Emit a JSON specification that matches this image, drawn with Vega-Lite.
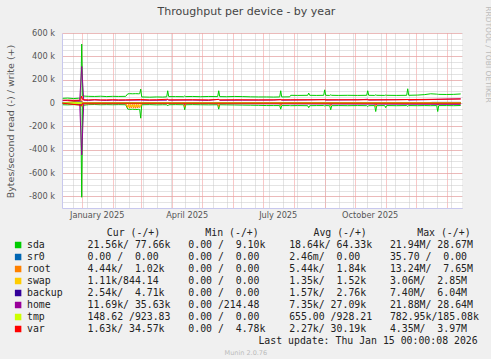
{
  "$schema": "https://vega.github.io/schema/vega-lite/v6.json",
  "background": "#f0f0f0",
  "padding": {"left": 4, "top": 5, "right": 0, "bottom": 0},
  "autosize": {"type": "pad"},
  "bounds": "flush",
  "spacing": 19,
  "config": {
    "view": {"stroke": null},
    "font": "DejaVu Sans",
    "axis": {"labelFont": "DejaVu Sans", "titleFont": "DejaVu Sans"}
  },
  "resolve": {"scale": {"color": "independent", "x": "independent", "y": "independent"}},
  "vconcat": [
    {
      "width": 400,
      "height": 175,
      "view": {"fill": "#ffffff", "stroke": null},
      "resolve": {"axis": {"x": "independent", "y": "independent"}},
      "layer": [
        {
          "data": {"values": [{}]},
          "mark": {"type": "point", "opacity": 0},
          "encoding": {
            "x": {"datum": {"year": 2025, "month": 1, "date": 1, "utc": true}, "type": "temporal",
              "axis": {"orient": "bottom", "grid": true, "gridColor": "#c8c8c8", "gridDash": [1, 1], "labels": false, "ticks": false, "domain": false, "title": null,
                "values": [
                  {"year": 2024, "month": 12, "date": 23, "utc": true}, {"year": 2025, "month": 1, "date": 6, "utc": true}, {"year": 2025, "month": 1, "date": 20, "utc": true},
                  {"year": 2025, "month": 2, "date": 3, "utc": true}, {"year": 2025, "month": 2, "date": 17, "utc": true}, {"year": 2025, "month": 3, "date": 3, "utc": true},
                  {"year": 2025, "month": 3, "date": 17, "utc": true}, {"year": 2025, "month": 3, "date": 31, "utc": true}, {"year": 2025, "month": 4, "date": 14, "utc": true},
                  {"year": 2025, "month": 4, "date": 28, "utc": true}, {"year": 2025, "month": 5, "date": 12, "utc": true}, {"year": 2025, "month": 5, "date": 26, "utc": true},
                  {"year": 2025, "month": 6, "date": 9, "utc": true}, {"year": 2025, "month": 6, "date": 23, "utc": true}, {"year": 2025, "month": 7, "date": 7, "utc": true},
                  {"year": 2025, "month": 7, "date": 21, "utc": true}, {"year": 2025, "month": 8, "date": 4, "utc": true}, {"year": 2025, "month": 8, "date": 18, "utc": true},
                  {"year": 2025, "month": 9, "date": 1, "utc": true}, {"year": 2025, "month": 9, "date": 15, "utc": true}, {"year": 2025, "month": 9, "date": 29, "utc": true},
                  {"year": 2025, "month": 10, "date": 13, "utc": true}, {"year": 2025, "month": 10, "date": 27, "utc": true}, {"year": 2025, "month": 11, "date": 10, "utc": true},
                  {"year": 2025, "month": 11, "date": 24, "utc": true}, {"year": 2025, "month": 12, "date": 8, "utc": true}, {"year": 2025, "month": 12, "date": 22, "utc": true},
                  {"year": 2026, "month": 1, "date": 5, "utc": true}
                ]}},
            "y": {"datum": 0, "type": "quantitative",
              "axis": {"orient": "right", "grid": true, "gridColor": "#c8c8c8", "gridDash": [1, 1], "labels": false, "ticks": false, "domain": false,
                "values": [-900000, -850000, -800000, -750000, -700000, -650000, -600000, -550000, -500000, -450000, -400000, -350000, -300000, -250000, -200000, -150000, -100000, -50000, 0, 50000, 100000, 150000, 200000, 250000, 300000, 350000, 400000, 450000, 500000, 550000, 600000],
                "title": "RRDTOOL / TOBI OETIKER", "titleColor": "#bbbbbb", "titleFontSize": 7.5, "titleFontWeight": "normal", "titleAngle": 90, "titleX": 25, "titleY": 21, "titleAlign": "center", "titleBaseline": "middle", "titleLimit": 200}}
          }
        },
        {
          "data": {"values": [{}]},
          "mark": {"type": "point", "opacity": 0},
          "encoding": {
            "x": {"datum": {"year": 2025, "month": 1, "date": 1, "utc": true}, "type": "temporal",
              "axis": {"orient": "bottom", "grid": true, "gridColor": "#f29090", "gridDash": [1, 1], "labels": false, "ticks": false, "domain": false, "title": null,
                "values": [
                  {"year": 2025, "month": 1, "date": 1, "utc": true}, {"year": 2025, "month": 2, "date": 1, "utc": true}, {"year": 2025, "month": 3, "date": 1, "utc": true},
                  {"year": 2025, "month": 4, "date": 1, "utc": true}, {"year": 2025, "month": 5, "date": 1, "utc": true}, {"year": 2025, "month": 6, "date": 1, "utc": true},
                  {"year": 2025, "month": 7, "date": 1, "utc": true}, {"year": 2025, "month": 8, "date": 1, "utc": true}, {"year": 2025, "month": 9, "date": 1, "utc": true},
                  {"year": 2025, "month": 10, "date": 1, "utc": true}, {"year": 2025, "month": 11, "date": 1, "utc": true}, {"year": 2025, "month": 12, "date": 1, "utc": true},
                  {"year": 2026, "month": 1, "date": 1, "utc": true}
                ]}},
            "y": {"datum": 0, "type": "quantitative",
              "axis": {"orient": "left", "grid": true, "gridColor": "#f29090", "gridDash": [1, 1], "ticks": false, "domain": true, "domainColor": "#c8c8ee",
                "values": [-800000, -600000, -400000, -200000, 0, 200000, 400000, 600000],
                "labelExpr": "datum.value == 0 ? '0' : (datum.value / 1000) + ' k'",
                "labelFontSize": 8.2, "labelColor": "#555555", "labelPadding": 7.5,
                "title": "Bytes/second read (-) / write (+)", "titleColor": "#555555", "titleFontSize": 9.5, "titleFontWeight": "normal", "titleAngle": -90, "titleX": -52, "titleY": 88, "titleAlign": "center", "titleBaseline": "middle"}}
          }
        },
        {
          "data": {"values": [{}]},
          "mark": {"type": "point", "opacity": 0},
          "encoding": {
            "x": {"datum": {"year": 2025, "month": 1, "date": 1, "utc": true}, "type": "temporal",
              "axis": {"orient": "top", "grid": false, "labels": false, "ticks": false, "domain": false,
                "title": "Throughput per device - by year", "titleColor": "#444444", "titleFontSize": 11, "titleFontWeight": "normal", "titleX": 184, "titleY": -22, "titleAlign": "center", "titleBaseline": "middle", "titleAngle": 0}},
            "y": {"datum": 0, "type": "quantitative", "axis": null}
          }
        },
        {
          "data": {"values": [
            {"date": "2024-12-13", "sda_read": -15000, "sda_write": 40000, "sr0_read": 0, "sr0_write": 0, "root_read": -5000, "root_write": 2000, "swap_read": -1500, "swap_write": 1500, "backup_read": -1500, "backup_write": 2000, "home_read": -5000, "home_write": 20000, "tmp_read": -700, "tmp_write": 900, "var_read": -2000, "var_write": 24000},
            {"date": "2024-12-18", "sda_read": -16000, "sda_write": 42000, "home_write": 22000, "var_write": 25000},
            {"date": "2024-12-24", "sda_read": -14000, "sda_write": 38000, "home_write": 21000, "var_write": 23000},
            {"date": "2024-12-29", "sda_read": -15000, "sda_write": 41000, "root_read": -6000},
            {"date": "2024-12-30", "home_read": -5000, "home_write": 21000, "var_write": 24000, "root_read": -5000},
            {"date": "2024-12-31", "sda_read": -15000, "sda_write": 40000, "root_read": -8000, "var_write": 25000, "swap_read": -2000},
            {"date": "2025-01-01", "sda_read": -808000, "sda_write": 505000, "home_read": -445000, "home_write": 313000, "root_read": -30000, "root_write": 20000, "var_write": 60000, "var_read": -20000, "swap_read": -15000, "backup_read": -10000, "backup_write": 10000, "tmp_read": -5000, "tmp_write": 5000},
            {"date": "2025-01-02", "sda_read": -20000, "sda_write": 60000, "root_read": -8000, "root_write": 2000, "var_write": 28000, "var_read": -2000, "swap_read": -1500, "backup_read": -1500, "backup_write": 2000, "tmp_read": -700, "tmp_write": 900},
            {"date": "2025-01-03", "home_read": -6000, "home_write": 24000},
            {"date": "2025-01-08", "sda_read": -14000, "sda_write": 57000, "var_write": 27000, "home_write": 22000},
            {"date": "2025-01-14", "sda_read": -13000, "sda_write": 56000, "var_write": 28000, "home_write": 27000},
            {"date": "2025-01-20", "sda_read": -15000, "sda_write": 58000, "var_write": 26000, "home_write": 24000},
            {"date": "2025-01-26", "sda_read": -14000, "sda_write": 55000, "var_write": 27000, "home_write": 22000},
            {"date": "2025-02-01", "sda_read": -15000, "sda_write": 57000, "var_write": 28000, "home_write": 25000},
            {"date": "2025-02-07", "sda_read": -14000, "sda_write": 56000, "var_write": 27000, "home_write": 23000},
            {"date": "2025-02-14", "sda_read": -15000, "sda_write": 57000, "root_read": -5000, "swap_read": -1500, "var_write": 27000, "home_write": 24000},
            {"date": "2025-02-16", "sda_read": -52000, "sda_write": 78000, "root_read": -40000, "swap_read": -30000},
            {"date": "2025-02-17", "root_read": -15000, "swap_read": -8000},
            {"date": "2025-02-18", "sda_read": -55000, "sda_write": 80000, "root_read": -45000, "swap_read": -35000},
            {"date": "2025-02-19", "root_read": -20000, "swap_read": -10000},
            {"date": "2025-02-20", "root_read": -42000, "swap_read": -30000},
            {"date": "2025-02-21", "sda_read": -53000, "sda_write": 79000, "root_read": -12000, "swap_read": -6000},
            {"date": "2025-02-22", "root_read": -44000, "swap_read": -33000},
            {"date": "2025-02-23", "root_read": -18000, "swap_read": -9000},
            {"date": "2025-02-24", "sda_read": -56000, "sda_write": 80000, "root_read": -46000, "swap_read": -34000},
            {"date": "2025-02-25", "root_read": -15000, "swap_read": -7000},
            {"date": "2025-02-26", "root_read": -43000, "swap_read": -31000},
            {"date": "2025-02-27", "sda_read": -54000, "sda_write": 79000, "root_read": -20000, "swap_read": -10000},
            {"date": "2025-02-28", "sda_read": -55000, "sda_write": 80000, "root_read": -40000, "swap_read": -30000},
            {"date": "2025-03-01", "sda_read": -130000, "sda_write": 119000, "root_read": -30000, "var_write": 30000, "home_write": 25000},
            {"date": "2025-03-02", "sda_read": -15000, "sda_write": 52000, "root_read": -5000, "swap_read": -1500},
            {"date": "2025-03-10", "sda_read": -14000, "sda_write": 50000, "var_write": 27000, "home_write": 23000},
            {"date": "2025-03-17", "sda_read": -16000, "sda_write": 52000, "var_write": 28000},
            {"date": "2025-03-23", "sda_read": -15000, "sda_write": 51000},
            {"date": "2025-03-27", "sda_read": -15000, "sda_write": 53000, "home_write": 24000},
            {"date": "2025-03-28", "sda_read": -25000, "sda_write": 105000, "home_write": 30000, "var_write": 32000},
            {"date": "2025-03-29", "sda_read": -15000, "sda_write": 55000, "home_write": 24000, "var_write": 27000},
            {"date": "2025-04-05", "sda_read": -14000, "sda_write": 55000},
            {"date": "2025-04-13", "sda_read": -15000, "sda_write": 54000, "root_read": -5000, "home_read": -5000},
            {"date": "2025-04-14", "sda_read": -58000, "sda_write": 60000, "root_read": -35000, "home_read": -15000},
            {"date": "2025-04-15", "sda_read": -15000, "sda_write": 55000, "root_read": -5000, "home_read": -5000},
            {"date": "2025-04-22", "sda_read": -14000, "sda_write": 56000, "var_write": 28000, "home_write": 25000},
            {"date": "2025-04-30", "sda_read": -15000, "sda_write": 54000},
            {"date": "2025-05-08", "sda_read": -16000, "sda_write": 56000, "var_write": 27000, "home_write": 22000},
            {"date": "2025-05-17", "sda_read": -15000, "sda_write": 55000, "root_read": -5000},
            {"date": "2025-05-18", "sda_read": -53000, "sda_write": 105000, "root_read": -30000, "home_write": 32000, "var_write": 30000},
            {"date": "2025-05-19", "sda_read": -15000, "sda_write": 55000, "root_read": -5000, "home_write": 23000, "var_write": 27000},
            {"date": "2025-05-26", "sda_read": -16000, "sda_write": 54000},
            {"date": "2025-06-03", "sda_read": -17000, "sda_write": 56000, "var_write": 28000},
            {"date": "2025-06-11", "sda_read": -18000, "sda_write": 55000, "home_write": 24000},
            {"date": "2025-06-19", "sda_read": -19000, "sda_write": 53000},
            {"date": "2025-06-27", "sda_read": -20000, "sda_write": 52000, "var_write": 27000},
            {"date": "2025-07-05", "sda_read": -22000, "sda_write": 52000},
            {"date": "2025-07-12", "sda_read": -22000, "sda_write": 51000, "home_write": 25000},
            {"date": "2025-07-18", "sda_read": -22000, "sda_write": 52000, "root_read": -5000},
            {"date": "2025-07-19", "sda_read": -53000, "sda_write": 105000, "root_read": -25000, "home_write": 30000},
            {"date": "2025-07-20", "sda_read": -22000, "sda_write": 52000, "root_read": -5000, "home_write": 24000},
            {"date": "2025-07-28", "sda_read": -22000, "sda_write": 53000},
            {"date": "2025-07-29", "sda_read": -23000, "sda_write": 66000, "var_write": 28000},
            {"date": "2025-08-05", "sda_read": -22000, "sda_write": 65000},
            {"date": "2025-08-15", "sda_read": -23000, "sda_write": 66000, "home_write": 26000},
            {"date": "2025-08-16", "sda_read": -40000, "sda_write": 85000},
            {"date": "2025-08-17", "sda_read": -23000, "sda_write": 66000},
            {"date": "2025-08-24", "sda_read": -22000, "sda_write": 65000},
            {"date": "2025-08-31", "sda_read": -22000, "sda_write": 66000},
            {"date": "2025-09-01", "sda_read": -25000, "sda_write": 113000, "home_write": 30000},
            {"date": "2025-09-02", "sda_read": -22000, "sda_write": 66000, "home_write": 25000},
            {"date": "2025-09-06", "sda_read": -23000, "sda_write": 65000, "root_read": -5000},
            {"date": "2025-09-07", "sda_read": -58000, "sda_write": 70000, "root_read": -25000},
            {"date": "2025-09-08", "sda_read": -23000, "sda_write": 66000, "root_read": -5000},
            {"date": "2025-09-15", "sda_read": -22000, "sda_write": 65000, "var_write": 28000},
            {"date": "2025-09-24", "sda_read": -23000, "sda_write": 66000},
            {"date": "2025-10-04", "sda_read": -22000, "sda_write": 65000, "home_write": 27000},
            {"date": "2025-10-13", "sda_read": -23000, "sda_write": 66000},
            {"date": "2025-10-14", "sda_read": -30000, "sda_write": 105000, "home_write": 32000},
            {"date": "2025-10-15", "sda_read": -23000, "sda_write": 66000, "home_write": 25000},
            {"date": "2025-10-21", "sda_read": -22000, "sda_write": 65000, "root_read": -5000},
            {"date": "2025-10-22", "sda_read": -73000, "sda_write": 70000, "root_read": -30000},
            {"date": "2025-10-23", "sda_read": -23000, "sda_write": 66000, "root_read": -5000},
            {"date": "2025-10-31", "sda_read": -22000, "sda_write": 65000},
            {"date": "2025-11-01", "sda_read": -40000, "sda_write": 68000},
            {"date": "2025-11-02", "sda_read": -22000, "sda_write": 66000},
            {"date": "2025-11-12", "sda_read": -23000, "sda_write": 65000, "var_write": 28000},
            {"date": "2025-11-22", "sda_read": -22000, "sda_write": 66000},
            {"date": "2025-11-23", "sda_read": -28000, "sda_write": 122000, "home_write": 30000},
            {"date": "2025-11-24", "sda_read": -22000, "sda_write": 66000, "home_write": 25000},
            {"date": "2025-12-03", "sda_read": -23000, "sda_write": 68000},
            {"date": "2025-12-10", "sda_read": -22000, "sda_write": 72000},
            {"date": "2025-12-16", "sda_read": -23000, "sda_write": 79000, "backup_read": -1500, "backup_write": 2000},
            {"date": "2025-12-17", "backup_read": -5000, "backup_write": 5000},
            {"date": "2025-12-22", "sda_read": -22000, "sda_write": 76000, "root_read": -5000},
            {"date": "2025-12-23", "sda_read": -73000, "sda_write": 75000, "root_read": -20000},
            {"date": "2025-12-24", "sda_read": -22000, "sda_write": 74000, "root_read": -5000},
            {"date": "2026-01-01", "sda_read": -22000, "sda_write": 73000},
            {"date": "2026-01-08", "sda_read": -23000, "sda_write": 74000},
            {"date": "2026-01-15", "sda_read": -21560, "sda_write": 77660, "sr0_read": 0, "sr0_write": 0, "root_read": -4440, "root_write": 1020, "swap_read": -1110, "swap_write": 844, "backup_read": -5000, "backup_write": 5000, "home_read": -11690, "home_write": 35630, "tmp_read": -149, "tmp_write": 924, "var_read": -1630, "var_write": 34570}
          ]},
          "transform": [
            {"fold": ["sda_read", "sda_write", "sr0_read", "sr0_write", "root_read", "root_write", "swap_read", "swap_write", "backup_read", "backup_write", "home_read", "home_write", "tmp_read", "tmp_write", "var_read", "var_write"]},
            {"filter": "datum.value != null"}
          ],
          "mark": {"type": "line", "strokeWidth": 1},
          "encoding": {
            "x": {"field": "date", "type": "temporal",
              "scale": {"type": "utc", "domain": [{"year": 2024, "month": 12, "date": 12, "hours": 7, "utc": true}, {"year": 2026, "month": 1, "date": 16, "hours": 7, "utc": true}]},
              "axis": {"orient": "bottom", "grid": false, "ticks": false, "domain": true, "domainColor": "#c8c8ee", "title": null, "format": "%B %Y", "labelFontSize": 8.2, "labelColor": "#555555", "labelPadding": 3,
                "values": [{"year": 2025, "month": 1, "date": 16, "utc": true}, {"year": 2025, "month": 4, "date": 16, "utc": true}, {"year": 2025, "month": 7, "date": 16, "utc": true}, {"year": 2025, "month": 10, "date": 16, "utc": true}]}},
            "y": {"field": "value", "type": "quantitative", "scale": {"domain": [-900000, 600000], "nice": false, "zero": false}, "axis": null},
            "color": {"field": "key", "type": "nominal", "legend": null,
              "scale": {"domain": ["sda_read", "sda_write", "sr0_read", "sr0_write", "root_read", "root_write", "swap_read", "swap_write", "backup_read", "backup_write", "home_read", "home_write", "tmp_read", "tmp_write", "var_read", "var_write"],
                "range": ["#00cc00", "#00cc00", "#0066b3", "#0066b3", "#ff8000", "#ff8000", "#ffcc00", "#ffcc00", "#330099", "#330099", "#990099", "#990099", "#ccff00", "#ccff00", "#ff0000", "#ff0000"]}}
          }
        }
      ]
    },
    {
      "width": 400,
      "height": 132,
      "view": {"stroke": null},
      "data": {"values": [
        {"device": "sda", "cur": "\u00a021.56k/\u00a077.66k", "min": "\u00a0\u00a00.00\u00a0/\u00a0\u00a09.10k", "avg": "\u00a018.64k/\u00a064.33k", "max": "\u00a021.94M/\u00a028.67M"},
        {"device": "sr0", "cur": "\u00a0\u00a00.00\u00a0/\u00a0\u00a00.00\u00a0", "min": "\u00a0\u00a00.00\u00a0/\u00a0\u00a00.00\u00a0", "avg": "\u00a0\u00a02.46m/\u00a0\u00a00.00\u00a0", "max": "\u00a035.70\u00a0/\u00a0\u00a00.00\u00a0"},
        {"device": "root", "cur": "\u00a0\u00a04.44k/\u00a0\u00a01.02k", "min": "\u00a0\u00a00.00\u00a0/\u00a0\u00a00.00\u00a0", "avg": "\u00a0\u00a05.44k/\u00a0\u00a01.84k", "max": "\u00a013.24M/\u00a0\u00a07.65M"},
        {"device": "swap", "cur": "\u00a0\u00a01.11k/844.14\u00a0", "min": "\u00a0\u00a00.00\u00a0/\u00a0\u00a00.00\u00a0", "avg": "\u00a0\u00a01.35k/\u00a0\u00a01.52k", "max": "\u00a0\u00a03.06M/\u00a0\u00a02.85M"},
        {"device": "backup", "cur": "\u00a0\u00a02.54k/\u00a0\u00a04.71k", "min": "\u00a0\u00a00.00\u00a0/\u00a0\u00a00.00\u00a0", "avg": "\u00a0\u00a01.57k/\u00a0\u00a02.76k", "max": "\u00a0\u00a07.40M/\u00a0\u00a06.04M"},
        {"device": "home", "cur": "\u00a011.69k/\u00a035.63k", "min": "\u00a0\u00a00.00\u00a0/214.48\u00a0", "avg": "\u00a0\u00a07.35k/\u00a027.09k", "max": "\u00a021.88M/\u00a028.64M"},
        {"device": "tmp", "cur": "148.62\u00a0/923.83\u00a0", "min": "\u00a0\u00a00.00\u00a0/\u00a0\u00a00.00\u00a0", "avg": "655.00\u00a0/928.21\u00a0", "max": "782.95k/185.08k"},
        {"device": "var", "cur": "\u00a0\u00a01.63k/\u00a034.57k", "min": "\u00a0\u00a00.00\u00a0/\u00a0\u00a04.78k", "avg": "\u00a0\u00a02.27k/\u00a030.19k", "max": "\u00a0\u00a04.35M/\u00a0\u00a03.97M"}
      ]},
      "layer": [
        {
          "mark": {"type": "square", "size": 42, "opacity": 1, "filled": true},
          "encoding": {
            "x": {"datum": -1.5, "type": "quantitative", "scale": {"domain": [5.9, 73.35], "nice": false, "zero": false}, "axis": null},
            "y": {"field": "device", "type": "nominal", "scale": {"type": "point", "padding": 0.5, "domain": ["hdr", "sda", "sr0", "root", "swap", "backup", "home", "tmp", "var", "last", "munin"]}, "axis": null},
            "color": {"field": "device", "type": "nominal", "legend": null, "scale": {"domain": ["sda", "sr0", "root", "swap", "backup", "home", "tmp", "var"], "range": ["#00cc00", "#0066b3", "#ff8000", "#ffcc00", "#330099", "#990099", "#ccff00", "#ff0000"]}}
          }
        },
        {
          "mark": {"type": "text", "align": "left", "baseline": "middle", "font": "DejaVu Sans Mono", "fontSize": 9.85, "color": "#222222"},
          "encoding": {"x": {"datum": 0, "type": "quantitative", "axis": null}, "y": {"field": "device", "type": "nominal", "axis": null}, "text": {"field": "device"}}
        },
        {
          "mark": {"type": "text", "align": "left", "baseline": "middle", "font": "DejaVu Sans Mono", "fontSize": 9.85, "color": "#222222"},
          "encoding": {"x": {"datum": 10.2, "type": "quantitative", "axis": null}, "y": {"field": "device", "type": "nominal", "axis": null}, "text": {"field": "cur"}}
        },
        {
          "mark": {"type": "text", "align": "left", "baseline": "middle", "font": "DejaVu Sans Mono", "fontSize": 9.85, "color": "#222222"},
          "encoding": {"x": {"datum": 27.2, "type": "quantitative", "axis": null}, "y": {"field": "device", "type": "nominal", "axis": null}, "text": {"field": "min"}}
        },
        {
          "mark": {"type": "text", "align": "left", "baseline": "middle", "font": "DejaVu Sans Mono", "fontSize": 9.85, "color": "#222222"},
          "encoding": {"x": {"datum": 44.2, "type": "quantitative", "axis": null}, "y": {"field": "device", "type": "nominal", "axis": null}, "text": {"field": "avg"}}
        },
        {
          "mark": {"type": "text", "align": "left", "baseline": "middle", "font": "DejaVu Sans Mono", "fontSize": 9.85, "color": "#222222"},
          "encoding": {"x": {"datum": 61.2, "type": "quantitative", "axis": null}, "y": {"field": "device", "type": "nominal", "axis": null}, "text": {"field": "max"}}
        },
        {
          "data": {"values": [{}]},
          "mark": {"type": "text", "align": "center", "baseline": "middle", "font": "DejaVu Sans Mono", "fontSize": 9.85, "color": "#222222"},
          "encoding": {"x": {"datum": 17.96, "type": "quantitative", "axis": null}, "y": {"datum": "hdr", "type": "nominal", "axis": null}, "text": {"value": "Cur (-/+)"}}
        },
        {
          "data": {"values": [{}]},
          "mark": {"type": "text", "align": "center", "baseline": "middle", "font": "DejaVu Sans Mono", "fontSize": 9.85, "color": "#222222"},
          "encoding": {"x": {"datum": 34.57, "type": "quantitative", "axis": null}, "y": {"datum": "hdr", "type": "nominal", "axis": null}, "text": {"value": "Min (-/+)"}}
        },
        {
          "data": {"values": [{}]},
          "mark": {"type": "text", "align": "center", "baseline": "middle", "font": "DejaVu Sans Mono", "fontSize": 9.85, "color": "#222222"},
          "encoding": {"x": {"datum": 52.8, "type": "quantitative", "axis": null}, "y": {"datum": "hdr", "type": "nominal", "axis": null}, "text": {"value": "Avg (-/+)"}}
        },
        {
          "data": {"values": [{}]},
          "mark": {"type": "text", "align": "center", "baseline": "middle", "font": "DejaVu Sans Mono", "fontSize": 9.85, "color": "#222222"},
          "encoding": {"x": {"datum": 70.3, "type": "quantitative", "axis": null}, "y": {"datum": "hdr", "type": "nominal", "axis": null}, "text": {"value": "Max (-/+)"}}
        },
        {
          "data": {"values": [{}]},
          "mark": {"type": "text", "align": "right", "baseline": "middle", "font": "DejaVu Sans Mono", "fontSize": 9.85, "color": "#222222"},
          "encoding": {"x": {"datum": 76.0, "type": "quantitative", "axis": null}, "y": {"datum": "last", "type": "nominal", "axis": null}, "text": {"value": "Last update: Thu Jan 15 00:00:08 2026"}}
        },
        {
          "data": {"values": [{}]},
          "mark": {"type": "text", "align": "center", "baseline": "middle", "font": "DejaVu Sans", "fontSize": 6.5, "color": "#bbbbbb"},
          "encoding": {"x": {"datum": 36.9, "type": "quantitative", "axis": null}, "y": {"datum": "munin", "type": "nominal", "axis": null}, "text": {"value": "Munin 2.0.76"}}
        }
      ]
    }
  ]
}
